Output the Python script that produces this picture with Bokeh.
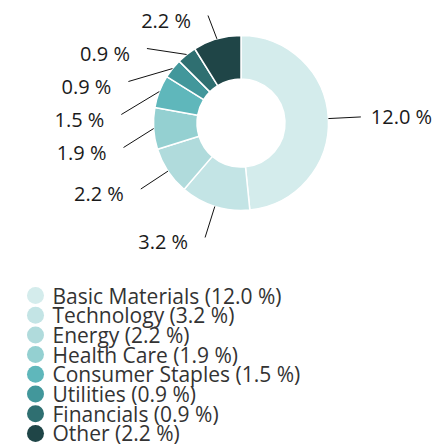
import math
from bokeh.plotting import figure
from bokeh.models import Range1d, ColumnDataSource
from bokeh.core.properties import value
from bokeh.embed import file_html
from bokeh.resources import INLINE

# ---- data ----
categories = ["Basic Materials", "Technology", "Energy", "Health Care",
              "Consumer Staples", "Utilities", "Financials", "Other"]
values = [12.0, 3.2, 2.2, 1.9, 1.5, 0.9, 0.9, 2.2]
colors = ["#d4ecec", "#c3e4e5", "#b0dbdc", "#94d0d1",
          "#5fb7bb", "#42979b", "#2f6f71", "#1f4547"]

FONT = "Open Sans"
W, H = 433, 448
PAGE_H = 448


def dy(page_y):
    return PAGE_H - page_y


# ---- layout ----
cx, cyp = 240.5, 122.5
r_out, r_in = 87.5, 44.0
r_lab = 120.0

p = figure(width=W, height=H, output_backend="svg", toolbar_location=None,
           x_range=Range1d(0, W), y_range=Range1d(0, H),
           min_border=0, outline_line_color=None, background_fill_color="white")
p.axis.visible = False
p.grid.visible = False

total = sum(values)
starts, ends, mids = [], [], []
cum = 0.0
for v in values:
    t0 = cum / total * 2 * math.pi
    cum += v
    t1 = cum / total * 2 * math.pi
    starts.append(math.pi / 2 - t0)
    ends.append(math.pi / 2 - t1)
    mids.append((t0 + t1) / 2)

src = ColumnDataSource(dict(start=starts, end=ends, color=colors))
p.annular_wedge(x=cx, y=dy(cyp), inner_radius=r_in, outer_radius=r_out,
                start_angle="start", end_angle="end", direction="clock",
                fill_color="color", line_color="white", line_width=1.5, source=src)

# ---- data labels with leader lines ----
label_texts = [f"{v:.1f} %" for v in values]
left = []
right = []
for i, th in enumerate(mids):
    sx = cx + r_out * math.sin(th)
    sy = cyp - r_out * math.cos(th)
    ex = cx + r_lab * math.sin(th)
    ey = cyp - r_lab * math.cos(th)
    if math.sin(th) > 0:
        right.append((i, sx, sy, ex, ey))
    else:
        left.append([i, sx, sy, ex, ey, False])

# spread left labels vertically
left.sort(key=lambda a: a[4])
min_y, gap = 15.0, 33.0
prev = None
for a in left:
    y = max(a[4], min_y)
    if prev is not None and y < prev + gap:
        y = prev + gap
        a[5] = True  # pushed by spacing -> slide along the label circle
    a[4] = y
    prev = y

lx0, ly0, lx1, ly1 = [], [], [], []
tx, ty, tt, ta = [], [], [], []
for i, sx, sy, ex, ey in right:
    lx0.append(sx); ly0.append(dy(sy)); lx1.append(ex); ly1.append(dy(ey))
    tx.append(ex + 10); ty.append(dy(ey)); tt.append(label_texts[i]); ta.append("left")
for i, sx, sy, ex, ey, pushed in left:
    if pushed:
        d = ey - cyp
        ex = cx - math.sqrt(max(r_lab ** 2 - d ** 2, 0))
    lx0.append(sx); ly0.append(dy(sy)); lx1.append(ex); ly1.append(dy(ey))
    tx.append(ex - 17); ty.append(dy(ey + 4.5)); tt.append(label_texts[i]); ta.append("right")

p.segment(x0=lx0, y0=ly0, x1=lx1, y1=ly1, line_color="#111111", line_width=1)
lsrc = ColumnDataSource(dict(x=tx, y=ty, text=tt, align=ta))
p.text(x="x", y="y", text="text", text_align="align", text_baseline="middle",
       text_font=value(FONT), text_font_size="20px", text_color="#1a1a1a", source=lsrc)

# ---- legend ----
legend_labels = [f"{c} ({v:.1f} %)" for c, v in zip(categories, values)]
row_y = [dy(295 + i * 19.7) for i in range(len(categories))]
p.scatter(x=[35] * len(categories), y=row_y, size=17, marker="circle",
          fill_color=colors, line_color=None)
p.text(x=[52] * len(categories), y=row_y, text=legend_labels,
       text_baseline="middle", text_font=value(FONT), text_font_size="21px",
       text_color="#333333")

open("out.html", "w").write(file_html(p, INLINE))
